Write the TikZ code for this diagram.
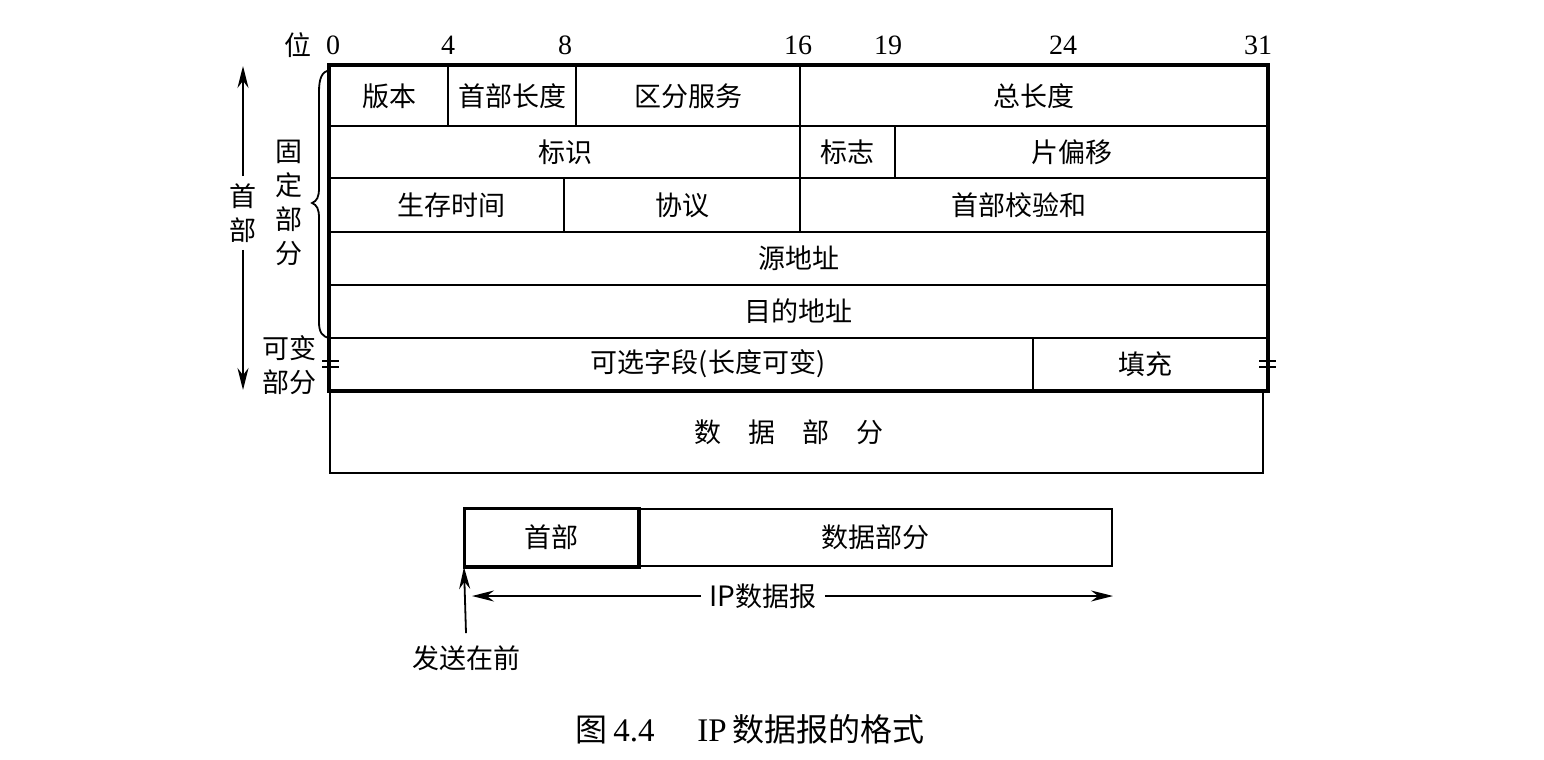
\documentclass[tikz,border=0pt]{standalone}
\usepackage{fontspec}
\setmainfont{Liberation Serif}
\newfontfamily\cjk{Noto Sans CJK SC}
\newcommand{\cjktext}{\cjk\fontsize{13.5}{17}\selectfont}
\newcommand{\numtext}{\fontsize{14}{16}\selectfont}
\usetikzlibrary{fit,arrows.meta}
\begin{document}
\begin{tikzpicture}[x=0.5pt,y=-0.5pt,
  every node/.style={inner sep=0pt},
  cell/.style={draw,line width=1pt},
  ct/.style={label={[font=\cjktext,inner sep=0pt]center:#1}},
  lbl/.style={font=\cjktext,align=center},
  num/.style={font=\numtext},
  arr/.style={-{Stealth[length=11pt,width=5.5pt]},line width=0.9pt},
  brk/.style={line width=0.8pt}]
\useasboundingbox (0,0) rectangle (1544,760);

% bit numbers
\node[lbl] (wei) at (298,45) {位};
\node[num] (b0) at (333,45) {0};
\node[num] (b4) at (448,45) {4};
\node[num] (b8) at (565,45) {8};
\node[num] (b16) at (798,45) {16};
\node[num] (b19) at (888,45) {19};
\node[num] (b24) at (1063,45) {24};
\node[num] (b31) at (1258,45) {31};

% header fields
\node[cell,fit={(330,66) (448,126)},ct=版本] (ver) {};
\node[cell,fit={(448,66) (576,126)},ct=首部长度] (hlen) {};
\node[cell,fit={(576,66) (800,126)},ct=区分服务] (ds) {};
\node[cell,fit={(800,66) (1267,126)},ct=总长度] (tlen) {};
\node[cell,fit={(330,126) (800,178)},ct=标识] (ident) {};
\node[cell,fit={(800,126) (895,178)},ct=标志] (flag) {};
\node[cell,fit={(895,126) (1267,178)}] (frag) {};
\node[lbl] (fragtext) at (1072,152) {片偏移};
\node[cell,fit={(330,178) (564,232)}] (ttl) {};
\node[lbl] (ttltext) at (451,205) {生存时间};
\node[cell,fit={(564,178) (800,232)},ct=协议] (proto) {};
\node[cell,fit={(800,178) (1267,232)}] (cks) {};
\node[lbl] (ckstext) at (1019,205) {首部校验和};
\node[cell,fit={(330,232) (1267,285)},ct=源地址] (src) {};
\node[cell,fit={(330,285) (1267,338)},ct=目的地址] (dst) {};
\node[cell,fit={(330,338) (1033,390)}] (opt) {};
\node[lbl] (opttext) at (708,364) {可选字段(长度可变)};
\node[cell,fit={(1033,338) (1267,390)}] (pad) {};
\node[lbl] (padtext) at (1145,364) {填充};
\node[cell,fit={(330,390) (1263,473)}] (data) {};
\node[lbl] (datatext) at (789,432) {数\quad 据\quad 部\quad 分};

% thick outline of header
\draw[line width=1.6pt] (ver.north west) rectangle (pad.south east);

% break marks
\draw[brk] (322,361) -- (339,361) (322,367) -- (339,367);
\draw[brk] (1259,361) -- (1276,361) (1259,367) -- (1276,367);

% header label with arrows
\node[lbl,inner sep=3.5pt] (hd) at (243,213) {首\\部};
\coordinate (htop) at (243,66);
\coordinate (hbot) at (243,390);
\draw[arr] (hd.north) -- (htop);
\draw[arr] (hd.south) -- (hbot);

% fixed part brace
\node[lbl] (fixed) at (289,203) {固\\定\\部\\分};
\draw[line width=0.9pt] (329,70) .. controls (322,72) and (319,78) .. (319,92)
  -- (319,188) .. controls (319,197) and (317,201) .. (312,203)
  .. controls (317,205) and (319,209) .. (319,218)
  -- (319,322) .. controls (319,332) and (322,337) .. (330,338);

% variable part
\node[lbl] (var) at (289,365) {可变\\部分};

% bottom datagram
\node[cell,fit={(465,509) (638,566)},ct=首部] (hdr) {};
\node[cell,fit={(638,509) (1112,566)},ct=数据部分] (dp) {};
\draw[line width=1.5pt] (hdr.north west) rectangle (hdr.south east);

\node[font=\cjktext,inner sep=4pt] (ip) at (763,596) {\numtext IP\cjktext 数据报};
\draw[arr] (ip.west) -- ([xshift=4pt]ip.west -| hdr.west);
\draw[arr] (ip.east) -- (ip.east -| dp.east);

\node[lbl,inner sep=6pt] (send) at (466,658) {发送在前};
\draw[arr] (send.north) -- (hdr.south west);

% caption
\node (cap) at (750,729) {\cjk\fontsize{16}{18}\selectfont 图\,{\rmfamily\fontsize{16.5}{18}\selectfont 4.4\hspace{1.3em}IP}\,数据报的格式};
\end{tikzpicture}
\end{document}
